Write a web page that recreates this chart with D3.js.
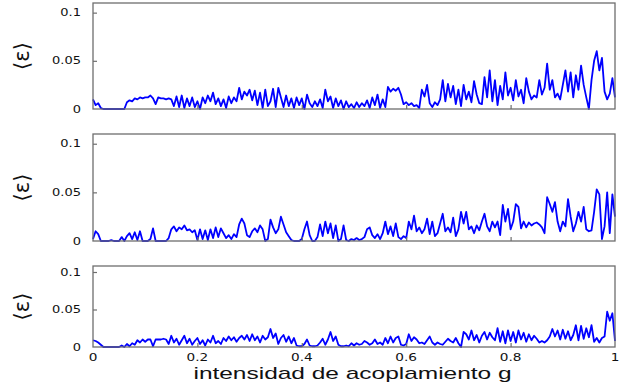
<!DOCTYPE html>
<html>
<head>
<meta charset="utf-8">
<script src="https://cdn.jsdelivr.net/npm/d3@7"></script>
<style>
  html, body { margin: 0; padding: 0; background: #fff; }
  svg { display: block; }
</style>
</head>
<body>
<svg id="chart" width="626" height="387"></svg>
<script>
// Coupling strength g, sampled every 0.005 from 0 to 1
const coupling = d3.range(201).map(i => i / 200);

// Mean error <ε> for the three runs, in units of 1e-3
const epsTop = [
  10,4,6,1,0,0,0,0,0,0,
  0,0,0,7,9,8,11,10,12,11,
  12,12,14,11,5,12,11,11,10,11,
  10,3,13,2,14,1,11,3,12,2,
  8,0,12,6,14,8,17,5,11,3,
  10,1,13,6,12,8,22,10,18,14,
  20,9,19,4,17,1,20,3,8,21,
  2,22,12,2,14,3,11,1,12,4,
  11,0,15,6,2,8,3,10,1,20,
  8,13,1,11,3,9,0,8,2,5,
  1,7,2,6,3,9,1,12,4,15,
  1,10,2,23,18,21,19,22,15,5,
  7,4,6,3,4,1,20,13,25,6,
  2,7,4,10,30,8,26,12,24,5,
  20,3,25,10,18,7,29,15,6,5,
  33,12,40,8,30,4,24,10,38,14,
  22,9,30,13,20,6,32,18,10,14,
  12,30,15,22,47,20,30,12,16,10,
  25,40,18,38,12,35,20,45,25,12,
  0,30,50,60,40,53,18,10,16,32,
  12
];
const epsMid = [
  2,10,7,0,0,0,0,1,0,0,
  0,4,0,5,8,2,9,1,10,0,
  0,0,2,13,0,0,0,0,0,3,
  12,15,10,14,12,16,11,12,9,11,
  1,12,2,11,1,12,3,14,4,13,
  8,3,6,2,7,4,17,23,18,6,
  4,10,13,9,16,12,0,2,22,14,
  8,12,25,17,9,5,1,0,0,0,
  2,12,20,6,0,0,4,17,5,20,
  8,18,3,16,0,2,16,1,0,2,
  1,3,1,2,4,12,14,6,3,7,
  2,8,20,7,15,5,18,4,2,5,
  3,20,12,26,10,14,8,12,23,7,
  20,5,8,18,28,10,14,9,24,5,
  12,30,18,30,12,15,8,16,11,20,
  28,15,10,20,14,20,6,37,20,33,
  12,20,38,35,13,20,14,19,16,18,
  19,17,14,8,45,38,30,40,20,10,
  20,15,43,25,10,18,30,20,35,12,
  10,11,30,53,48,2,15,50,8,48,
  25
];
const epsBottom = [
  9,8,6,3,0,0,0,0,0,0,
  0,2,0,4,1,5,3,9,6,10,
  7,10,10,1,10,10,10,11,10,4,
  15,6,11,3,9,15,5,11,3,8,
  12,4,9,2,10,6,15,5,8,4,
  12,8,14,9,13,7,12,15,10,16,
  8,17,9,14,6,15,10,13,24,12,
  18,4,12,16,7,14,5,12,2,1,
  1,4,10,2,1,1,2,6,11,3,
  10,20,8,14,3,1,1,2,1,5,
  2,5,3,4,8,6,3,5,10,4,
  6,3,12,5,14,6,12,14,3,2,
  4,17,8,13,10,5,6,4,9,14,
  6,3,6,4,3,7,11,8,6,12,
  5,0,20,17,10,22,9,16,6,15,
  20,10,19,13,9,25,7,21,5,22,
  8,20,6,22,10,19,7,17,9,15,
  11,6,8,6,9,14,24,14,22,10,
  23,11,21,9,16,29,9,28,11,25,
  13,29,7,12,6,12,14,47,35,45,
  8
];

const xTicks = [0, 0.2, 0.4, 0.6, 0.8, 1];
const xTickLabels = ["0", "0.2", "0.4", "0.6", "0.8", "1"];
const yTicks = [0, 0.05, 0.1];
const yTickLabels = ["0", "0.05", "0.1"];
const yLabel = "\u27E8\u03B5\u27E9";
const xLabel = "intensidad de acoplamiento g";

const svg = d3.select("#chart");
const left = 93, right = 615;
const textStretch = 1.3;

const x = d3.scaleLinear().domain([0, 1]).range([left, right]);

const panels = [
  { values: epsTop,    top: 3,   bottom: 109, yMax: 0.11 },
  { values: epsMid,    top: 134, bottom: 241, yMax: 0.11 },
  { values: epsBottom, top: 266, bottom: 347, yMax: 0.108 }
];

panels.forEach((p, k) => {
  const y = d3.scaleLinear().domain([0, p.yMax]).range([p.bottom, p.top]);
  const g = svg.append("g");

  // series line
  const line = d3.line()
    .x((d, i) => x(coupling[i]))
    .y(d => y(d / 1000));
  g.append("path")
    .datum(p.values)
    .attr("d", line)
    .attr("fill", "none")
    .attr("stroke", "#0000ff")
    .attr("stroke-width", 1.8)
    .attr("stroke-linejoin", "round");

  // frame
  g.append("rect")
    .attr("x", left).attr("y", p.top)
    .attr("width", right - left).attr("height", p.bottom - p.top)
    .attr("fill", "none")
    .attr("stroke", "#6e6e6e")
    .attr("stroke-width", 1.3);

  // inward tick marks
  const yAxis = g.append("g")
    .attr("transform", `translate(${left},0)`)
    .call(d3.axisLeft(y).tickValues(yTicks.slice(1)).tickSize(-4).tickFormat(""));
  yAxis.select(".domain").remove();
  yAxis.selectAll("line").attr("stroke", "#6e6e6e").attr("stroke-width", 1.2);

  const xAxis = g.append("g")
    .attr("transform", `translate(0,${p.bottom})`)
    .call(d3.axisBottom(x).tickValues(xTicks.slice(1, -1)).tickSize(-4).tickFormat(""));
  xAxis.select(".domain").remove();
  xAxis.selectAll("line").attr("stroke", "#6e6e6e").attr("stroke-width", 1.2);

  // y tick labels
  yTicks.forEach((v, i) => {
    g.append("text")
      .attr("transform", `translate(81,${y(v)}) scale(${textStretch},1)`)
      .attr("dy", "0.36em")
      .attr("text-anchor", "end")
      .attr("font-family", "DejaVu Sans, sans-serif")
      .attr("font-size", 10)
      .attr("fill", "#111")
      .text(yTickLabels[i]);
  });

  // y axis title
  g.append("text")
    .attr("transform", `translate(22,${(p.top + p.bottom) / 2}) rotate(-90)`)
    .attr("dy", "0.35em")
    .attr("text-anchor", "middle")
    .attr("font-family", "DejaVu Sans, sans-serif")
    .attr("font-size", 21)
    .attr("fill", "#111")
    .text(yLabel);

  // x tick labels on the bottom panel only
  if (k === panels.length - 1) {
    xTicks.forEach((v, i) => {
      g.append("text")
        .attr("transform", `translate(${x(v)},361) scale(${textStretch},1)`)
        .attr("text-anchor", "middle")
        .attr("font-family", "DejaVu Sans, sans-serif")
        .attr("font-size", 10.5)
        .attr("fill", "#111")
        .text(xTickLabels[i]);
    });
    svg.append("text")
      .attr("transform", `translate(${(193 + 512) / 2},379) scale(1.53,1)`)
      .attr("text-anchor", "middle")
      .attr("font-family", "Liberation Sans, Arial, sans-serif")
      .attr("font-size", 16)
      .attr("fill", "#111")
      .text(xLabel);
  }
});
</script>
</body>
</html>
